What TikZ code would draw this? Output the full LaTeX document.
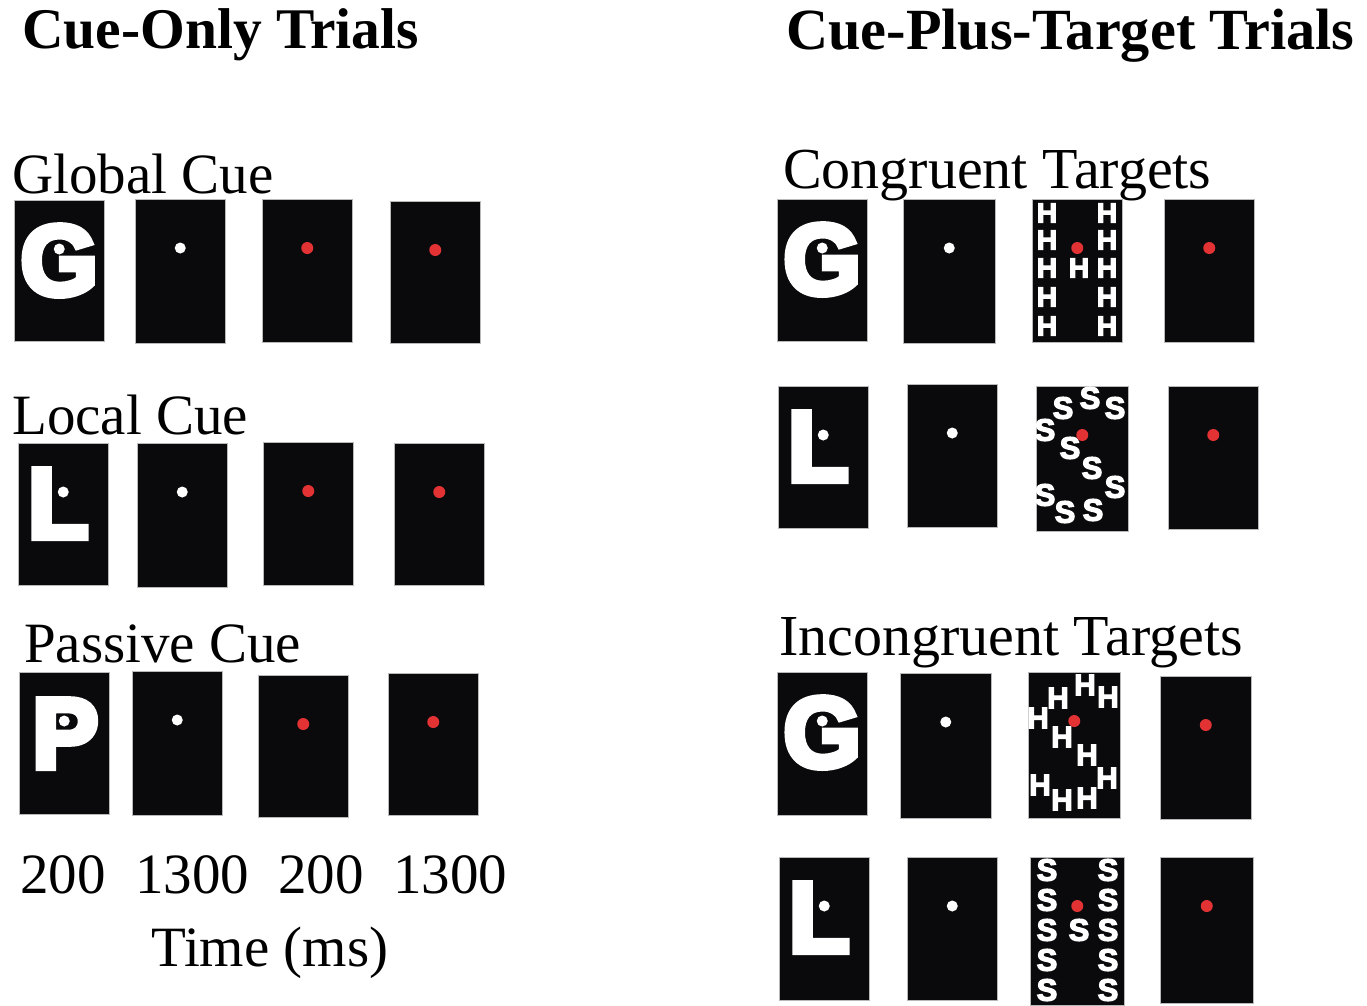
\documentclass[tikz,border=0pt]{standalone}
\usepackage{fontspec}
\setmainfont{Liberation Serif}
\newfontfamily\cuesans{Liberation Sans}[BoldFeatures={FakeBold=6}]
\newfontfamily\elemsans{Liberation Sans}[BoldFeatures={FakeBold=4}]
\definecolor{screenfill}{RGB}{10,10,12}
\definecolor{targetred}{RGB}{226,50,52}

\tikzset{
  screenbox/.style={fill=screenfill, draw=gray!55, line width=0.5pt, inner sep=0pt, anchor=north west},
  heading/.style={font=\fontsize{57.5}{60}\selectfont\bfseries, anchor=base west, inner sep=0pt},
  rowlabel/.style={font=\fontsize{57}{60}\selectfont, anchor=base west, inner sep=0pt},
  cueletter/.style={text=white, font=\cuesans\bfseries\fontsize{100}{110}\selectfont, anchor=base, inner sep=0pt},
  localH/.style={text=white, font=\elemsans\bfseries\fontsize{28}{30}\selectfont, inner sep=0pt},
  localHbig/.style={text=white, font=\elemsans\bfseries\fontsize{30}{32}\selectfont, inner sep=0pt},
  localS/.style={text=white, font=\elemsans\bfseries\fontsize{31}{33}\selectfont, inner sep=0pt},
  fixdot/.style={circle, fill=white, inner sep=0pt, minimum size=11pt},
  reddot/.style={circle, fill=targetred, inner sep=0pt, minimum size=12pt}
}

% \screen{name}{x0}{y0}{x1}{y1}: one black display, pixel-style coordinates
\newcommand\screen[5]{%
  \node[screenbox, minimum width={#4pt-#2pt}, minimum height={#5pt-#3pt}] (#1) at (#2,#3) {};}

\begin{document}
\begin{tikzpicture}[x=1pt, y=-1pt]
\useasboundingbox (0,0) rectangle (1367,1005);

% ---------- headings ----------
\node[heading] (title-left)  at (22,48)  {Cue-Only Trials};
\node[heading, font=\fontsize{58.3}{60}\selectfont\bfseries] (title-right) at (786,49) {Cue-Plus-Target Trials};

% ---------- cue-only trials ----------
\node[rowlabel] (lab-global)  at (12,193) {Global Cue};
\node[rowlabel] (lab-local)   at (12,434) {Local Cue};
\node[rowlabel] (lab-passive) at (24,662) {Passive Cue};

\screen{g1}{14}{200}{104}{341}
\screen{g2}{135}{199}{225}{343}
\screen{g3}{262}{199}{352}{342}
\screen{g4}{390}{201}{480}{343}

\screen{l1}{18}{443}{108}{585}
\screen{l2}{137}{443}{227}{587}
\screen{l3}{263}{442}{353}{585}
\screen{l4}{394}{443}{484}{585}

\screen{p1}{19}{672}{109}{814}
\screen{p2}{132}{671}{222}{815}
\screen{p3}{258}{675}{348}{817}
\screen{p4}{388}{673}{478}{815}

\node[cueletter] (g1-letter) at ([yshift=-95pt]g1.north) {G};
\node[cueletter] (l1-letter) at ([xshift=-5pt,yshift=-95pt]l1.north) {L};
\node[cueletter] (p1-letter) at ([xshift=1pt,yshift=-96pt]p1.north) {P};

\foreach \b in {g1,g2,l1,l2,p1,p2}
  \node[fixdot] (\b-dot) at ([yshift=-49pt]\b.north) {};
\foreach \b in {g3,g4,l3,l4,p3,p4}
  \node[reddot] (\b-dot) at ([yshift=-49pt]\b.north) {};

% durations
\node[rowlabel] (t1) at (20,893)  {200};
\node[rowlabel] (t2) at (135,893) {1300};
\node[rowlabel] (t3) at (278,893) {200};
\node[rowlabel] (t4) at (393,893) {1300};
\node[rowlabel] (time-axis) at (151,966) {Time (ms)};

% ---------- cue-plus-target trials ----------
\node[rowlabel, font=\fontsize{58}{60}\selectfont] (lab-congruent)   at (783,188) {Congruent Targets};
\node[rowlabel, font=\fontsize{58}{60}\selectfont] (lab-incongruent) at (779,655) {Incongruent Targets};

\screen{ca1}{777}{199}{867}{341}
\screen{ca2}{903}{199}{995}{343}
\screen{ca3}{1032}{199}{1122}{342}
\screen{ca4}{1164}{199}{1254}{342}

\screen{cb1}{778}{386}{868}{528}
\screen{cb2}{907}{384}{997}{527}
\screen{cb3}{1036}{386}{1128}{531}
\screen{cb4}{1168}{386}{1258}{529}

\screen{ia1}{777}{672}{867}{815}
\screen{ia2}{900}{673}{991}{818}
\screen{ia3}{1028}{672}{1120}{818}
\screen{ia4}{1160}{676}{1251}{819}

\screen{ib1}{779}{857}{869}{1000}
\screen{ib2}{907}{857}{997}{1000}
\screen{ib3}{1030}{857}{1124}{1005}
\screen{ib4}{1160}{857}{1253}{1003}

\node[cueletter] (ca1-letter) at ([yshift=-95pt]ca1.north) {G};
\node[cueletter] (cb1-letter) at ([xshift=-5pt,yshift=-95pt]cb1.north) {L};
\node[cueletter] (ia1-letter) at ([yshift=-95pt]ia1.north) {G};
\node[cueletter] (ib1-letter) at ([xshift=-5pt,yshift=-95pt]ib1.north) {L};

% global H made of local H
\foreach \y [count=\i] in {213,240,268,297,326} {
  \node[localH] (ca3-left-\i)  at (1047,\y) {H};
  \node[localH] (ca3-right-\i) at (1107,\y) {H};
}
\node[localH] (ca3-mid) at (1079,268) {H};

% global S made of local S
\foreach \x/\y [count=\i] in {1090/398,1063/408,1115/408,1045/430,1070/448,
                              1092/468,1115/487,1045/495,1065/512,1093/510}
  \node[localS] (cb3-s\i) at (\x,\y) {S};

% global S made of local H
\foreach \x/\y [count=\i] in {1085/685,1058/698,1108/697,1038/718,1062/737,
                              1087/755,1107/778,1040/785,1062/800,1087/798}
  \node[localHbig] (ia3-h\i) at (\x,\y) {H};

% global H made of local S
\foreach \y [count=\i] in {870,900,930,960,990} {
  \node[localS] (ib3-left-\i)  at (1047,\y) {S};
  \node[localS] (ib3-right-\i) at (1108,\y) {S};
}
\node[localS] (ib3-mid) at (1079,930) {S};

\foreach \b in {ca1,ca2,cb1,cb2,ia1,ia2,ib1,ib2}
  \node[fixdot] (\b-dot) at ([yshift=-49pt]\b.north) {};
\foreach \b in {ca3,ca4,cb3,cb4,ia3,ia4,ib3,ib4}
  \node[reddot] (\b-dot) at ([yshift=-49pt]\b.north) {};

\end{tikzpicture}
\end{document}
